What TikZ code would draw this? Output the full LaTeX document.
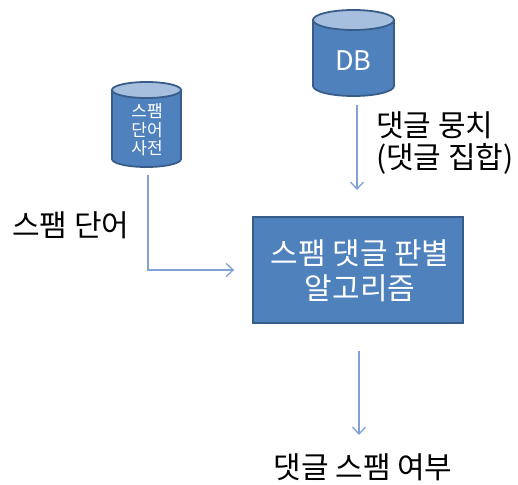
\documentclass[tikz,border=0pt]{standalone}
\usepackage{fontspec}
\setmainfont{Noto Sans CJK KR}
\usetikzlibrary{arrows.meta}
\definecolor{boxblue}{HTML}{4F81BD}
\definecolor{boxedge}{HTML}{385D8A}
\definecolor{toplight}{HTML}{A7BFDE}
\definecolor{arrowblue}{HTML}{7FA1D3}
\tikzset{
  shapebody/.style={fill=boxblue, draw=boxedge, line width=1.8pt},
  shapetop/.style={fill=toplight, draw=boxedge, line width=1.8pt},
  holder/.style={inner sep=0pt, outer sep=0pt},
  intext/.style={text=white, align=center, inner sep=0pt},
  lbl/.style={text=black, align=left, inner sep=0pt, font=\fontsize{30}{32}\selectfont},
  conn/.style={draw=arrowblue, line width=1.3pt, -{Straight Barb[length=7pt,width=13pt,line width=1.3pt]}}
}
\begin{document}
\begin{tikzpicture}[x=1pt,y=-1pt]
\useasboundingbox[fill=white] (0,0) rectangle (518,484);

% spam dictionary cylinder
\node[holder, minimum width=69pt, minimum height=85pt] (dict) at (146.5,124.5) {};
\path[shapebody] ([yshift=-8pt]dict.north west) -- ([yshift=8pt]dict.south west)
  arc[start angle=180, end angle=360, x radius=34.5pt, y radius=8pt]
  -- ([yshift=-8pt]dict.north east) -- cycle;
\path[shapetop] ([yshift=-8pt]dict.north) ellipse[x radius=34.5pt, y radius=8pt];
\node[intext, font=\fontsize{17}{18.5}\selectfont] (dicttext) at (147,130) {스팸\\단어\\사전};

% DB cylinder
\node[holder, minimum width=81pt, minimum height=86pt] (db) at (353.5,53) {};
\path[shapebody] ([yshift=-10pt]db.north west) -- ([yshift=10pt]db.south west)
  arc[start angle=180, end angle=360, x radius=40.5pt, y radius=10pt]
  -- ([yshift=-10pt]db.north east) -- cycle;
\path[shapetop] ([yshift=-10pt]db.north) ellipse[x radius=40.5pt, y radius=10pt];
\node[intext, font=\fontsize{27}{28}\selectfont] (dbtext) at (353.5,61) {DB};

% algorithm box
\node[shapebody, minimum width=210pt, minimum height=106pt, inner sep=0pt] (algo) at (358,270) {};
\node[intext, font=\fontsize{30}{35}\selectfont] (algotext) at (360,271) {스팸 댓글 판별\\알고리즘};

% labels
\node[lbl, anchor=west] (words) at (12,225) {스팸 단어};
\node[lbl, anchor=west] (bundle) at (376,143) {댓글 뭉치\\(댓글 집합)};
\node[lbl, anchor=center] (result) at (363,467) {댓글 스팸 여부};

% connectors
\coordinate (dictout) at ([xshift=1.5pt,yshift=-8pt]dict.south);
\coordinate (algoin) at ([xshift=-18pt]algo.west);
\draw[conn] (dictout) |- (algoin);
\coordinate (dbout) at (357,105);
\coordinate (algotopin) at (357,190);
\draw[conn] (dbout) -- (algotopin);
\coordinate (algoout) at ([xshift=1pt,yshift=-27pt]algo.south);
\coordinate (resultin) at (359,435);
\draw[conn] (algoout) -- (resultin);
\end{tikzpicture}
\end{document}
